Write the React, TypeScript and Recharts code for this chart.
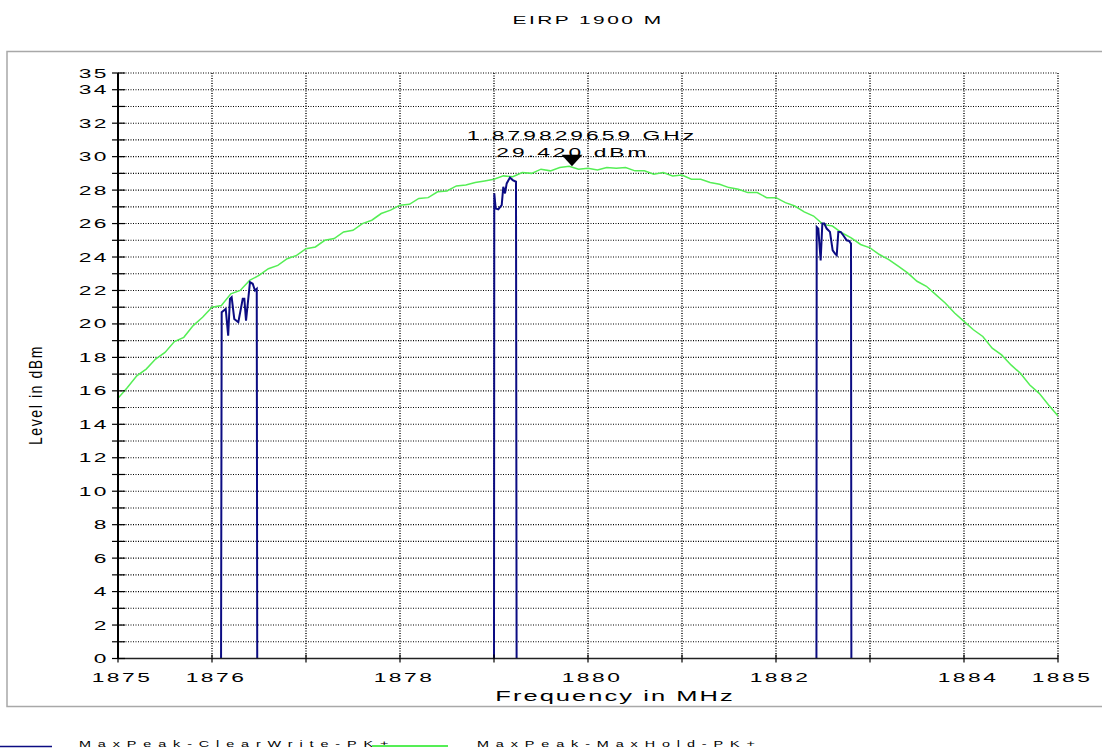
import React from 'react';
import {
  ComposedChart,
  Line,
  XAxis,
  YAxis,
  CartesianGrid,
  ReferenceDot,
} from 'recharts';

// axis ticks (every MHz / every dB), labels only on some of them
const X_TICKS = [1875, 1876, 1877, 1878, 1879, 1880, 1881, 1882, 1883, 1884, 1885];
const X_LABELS = [1875, 1876, 1878, 1880, 1882, 1884, 1885];
const Y_TICKS = [
  0, 1, 2, 3, 4, 5, 6, 7, 8, 9, 10, 11, 12, 13, 14, 15, 16, 17, 18, 19, 20, 21,
  22, 23, 24, 25, 26, 27, 28, 29, 30, 31, 32, 33, 34, 35,
];
const Y_LABELS = [0, 2, 4, 6, 8, 10, 12, 14, 16, 18, 20, 22, 24, 26, 28, 30, 32, 34, 35];

// MaxHold trace, sweep 1875..1885 MHz in 0.1 MHz steps
const HOLD_START = 1875;
const HOLD_STEP = 0.1;
const HOLD_LEVELS = [
  15.55, 16.2, 16.9, 17.3, 17.9, 18.3, 18.95, 19.2, 19.9, 20.4,
  21.0, 21.1, 21.8, 22.0, 22.6, 22.9, 23.3, 23.5, 23.9, 24.1,
  24.5, 24.6, 25.0, 25.1, 25.5, 25.6, 26.0, 26.2, 26.6, 26.8,
  27.1, 27.15, 27.5, 27.55, 27.9, 27.95, 28.25, 28.3, 28.45, 28.55,
  28.65, 28.85, 28.8, 29.05, 29.0, 29.25, 29.15, 29.35, 29.42, 29.25,
  29.3, 29.2, 29.35, 29.3, 29.35, 29.15, 29.15, 28.95, 29.05, 28.85,
  28.9, 28.65, 28.65, 28.45, 28.35, 28.15, 28.05, 27.85, 27.85, 27.55,
  27.55, 27.25, 27.05, 26.7, 26.45, 25.95, 25.85, 25.45, 25.15, 24.75,
  24.55, 24.15, 23.85, 23.45, 23.05, 22.55, 22.25, 21.75, 21.25, 20.65,
  20.15, 19.65, 19.25, 18.55, 18.15, 17.55, 17.05, 16.35, 15.85, 15.15,
  14.5,
];

// ClearWrite trace: three bursts, everything else is below the display floor
const CW_FREQS = [
  1875, 1876.09,
  1876.103, 1876.146, 1876.172, 1876.191, 1876.209, 1876.237, 1876.28, 1876.327,
  1876.344, 1876.362, 1876.404, 1876.433, 1876.457, 1876.476, 1876.486,
  1878.998,
  1879.003, 1879.018, 1879.046, 1879.082, 1879.099, 1879.117, 1879.135, 1879.17,
  1879.199, 1879.234, 1879.245,
  1882.428,
  1882.433, 1882.45, 1882.475, 1882.493, 1882.514, 1882.539, 1882.574, 1882.603,
  1882.628, 1882.646, 1882.663, 1882.688, 1882.715, 1882.752, 1882.78, 1882.798,
  1882.805, 1885,
];
const CW_LEVELS = [
  -20, -20,
  20.7, 20.9, 19.3, 21.5, 21.6, 20.3, 20.1, 21.5,
  21.5, 20.2, 22.5, 22.4, 22.0, 22.1, -20,
  -20,
  27.8, 26.9, 26.85, 27.1, 28.2, 27.8, 28.4, 28.75,
  28.6, 28.5, -20,
  -20,
  25.8, 25.7, 23.8, 26.0, 26.0, 25.7, 25.5, 24.4,
  24.2, 24.1, 25.5, 25.5, 25.3, 25.0, 24.95, 24.8,
  -20, -20,
];

const MARKER_FREQ = 1879.829659;
const MARKER_LEVEL = 29.42;

const holdData = HOLD_LEVELS.map((v, i) => ({
  f: +(HOLD_START + i * HOLD_STEP).toFixed(1),
  v,
}));
const cwData = CW_FREQS.map((f, i) => ({ f, v: CW_LEVELS[i] }));

const FONT = '"Liberation Sans", Arial, sans-serif';
const BLUE = '#0c0c82';
const GREEN = '#55ee55';

// the original picture is stretched sideways, so text is too
const StretchText = ({
  x,
  y,
  text,
  anchor = 'start',
  size = 12,
  sx = 1.9,
  ls = 1.3,
}: {
  x: number;
  y: number;
  text: string;
  anchor?: 'start' | 'middle' | 'end';
  size?: number;
  sx?: number;
  ls?: number;
}) => (
  <text
    transform={`translate(${x},${y}) scale(${sx},1)`}
    textAnchor={anchor}
    fontSize={size}
    letterSpacing={ls}
    fontFamily={FONT}
    fill='#000'
  >
    {text}
  </text>
);

const YTick = (props: any) => {
  const { x, y, payload } = props;
  return (
    <g>
      <line x1={x - 6} x2={x + 7} y1={y} y2={y} stroke='#000' strokeWidth={1.2} />
      {Y_LABELS.includes(payload.value) && (
        <StretchText x={x - 9} y={y + 4.5} anchor='end' text={String(payload.value)} />
      )}
    </g>
  );
};

const XTick = (props: any) => {
  const { x, y, payload } = props;
  return (
    <g>
      <line x1={x} x2={x} y1={y - 4} y2={y + 4} stroke='#000' strokeWidth={1.2} />
      {X_LABELS.includes(payload.value) && (
        <StretchText x={x + 4} y={y + 23.5} anchor='middle' text={String(payload.value)} />
      )}
    </g>
  );
};

const MarkerShape = (props: any) => {
  const { cx, cy } = props;
  return (
    <g>
      <StretchText x={cx + 10} y={cy - 26} anchor='middle' ls={1.6} text='1.879829659 GHz' />
      <StretchText x={cx + 1} y={cy - 9.5} anchor='middle' ls={1.6} text='29.420 dBm' />
      <polygon
        points={`${cx - 10.5},${cy - 11.5} ${cx + 10.5},${cy - 11.5} ${cx},${cy}`}
        fill='#000'
      />
    </g>
  );
};

export default function App() {
  return (
    <div
      style={{
        position: 'absolute',
        left: 0,
        top: 0,
        width: 1102,
        height: 752,
        background: '#fff',
      }}
    >
      <svg
        width={1102}
        height={752}
        style={{ position: 'absolute', left: 0, top: 0 }}
      >
        <rect x={7} y={51.5} width={1200} height={655} fill='none' stroke='#a8a8a8' strokeWidth={1.5} />
        <StretchText x={588} y={24} anchor='middle' size={11} text='EIRP 1900 M' />
        <StretchText x={615} y={701} anchor='middle' size={15} sx={1.7} ls={1.2} text='Frequency in MHz' />
        <text
          transform='translate(42,395) scale(1.25,1) rotate(-90)'
          textAnchor='middle'
          fontSize={14}
          letterSpacing={1.6}
          fontFamily={FONT}
        >
          Level in dBm
        </text>
        <line x1={0} x2={52} y1={746.5} y2={746.5} stroke={BLUE} strokeWidth={1.5} />
        <StretchText x={79} y={747} size={9} sx={1.6} ls={4.3} text='MaxPeak-ClearWrite-PK+' />
        <line x1={372} x2={448} y1={746} y2={746} stroke={GREEN} strokeWidth={2} />
        <StretchText x={477} y={747} size={9} sx={1.6} ls={4.3} text='MaxPeak-MaxHold-PK+' />
      </svg>
      <div style={{ position: 'absolute', left: 0, top: 0 }}>
        <ComposedChart
          width={1102}
          height={752}
          margin={{ top: 73, right: 44, bottom: 63.5, left: 58 }}
        >
          <CartesianGrid
            horizontal
            vertical={false}
            stroke='#000'
            strokeDasharray='1 1.5'
            strokeWidth={1.1}
          />
          <CartesianGrid
            horizontal={false}
            vertical
            stroke='#000'
            strokeDasharray='1 1.5'
            strokeWidth={1.4}
          />
          <XAxis
            dataKey='f'
            type='number'
            domain={[1875, 1885]}
            ticks={X_TICKS}
            interval={0}
            allowDataOverflow
            height={30}
            tickSize={0}
            tickMargin={0}
            tickLine={false}
            axisLine={{ stroke: '#222', strokeWidth: 1.5 }}
            tick={<XTick />}
          />
          <YAxis
            type='number'
            domain={[0, 35]}
            ticks={Y_TICKS}
            interval={0}
            allowDataOverflow
            width={60}
            tickSize={0}
            tickMargin={0}
            tickLine={false}
            axisLine={{ stroke: '#000', strokeWidth: 2 }}
            tick={<YTick />}
          />
          <Line
            data={holdData}
            dataKey='v'
            type='linear'
            stroke={GREEN}
            strokeWidth={1.5}
            dot={false}
            isAnimationActive={false}
          />
          <Line
            data={cwData}
            dataKey='v'
            type='linear'
            stroke={BLUE}
            strokeWidth={2}
            dot={false}
            isAnimationActive={false}
          />
          <ReferenceDot
            x={MARKER_FREQ}
            y={MARKER_LEVEL}
            r={0}
            ifOverflow='visible'
            shape={MarkerShape}
          />
        </ComposedChart>
      </div>
    </div>
  );
}
